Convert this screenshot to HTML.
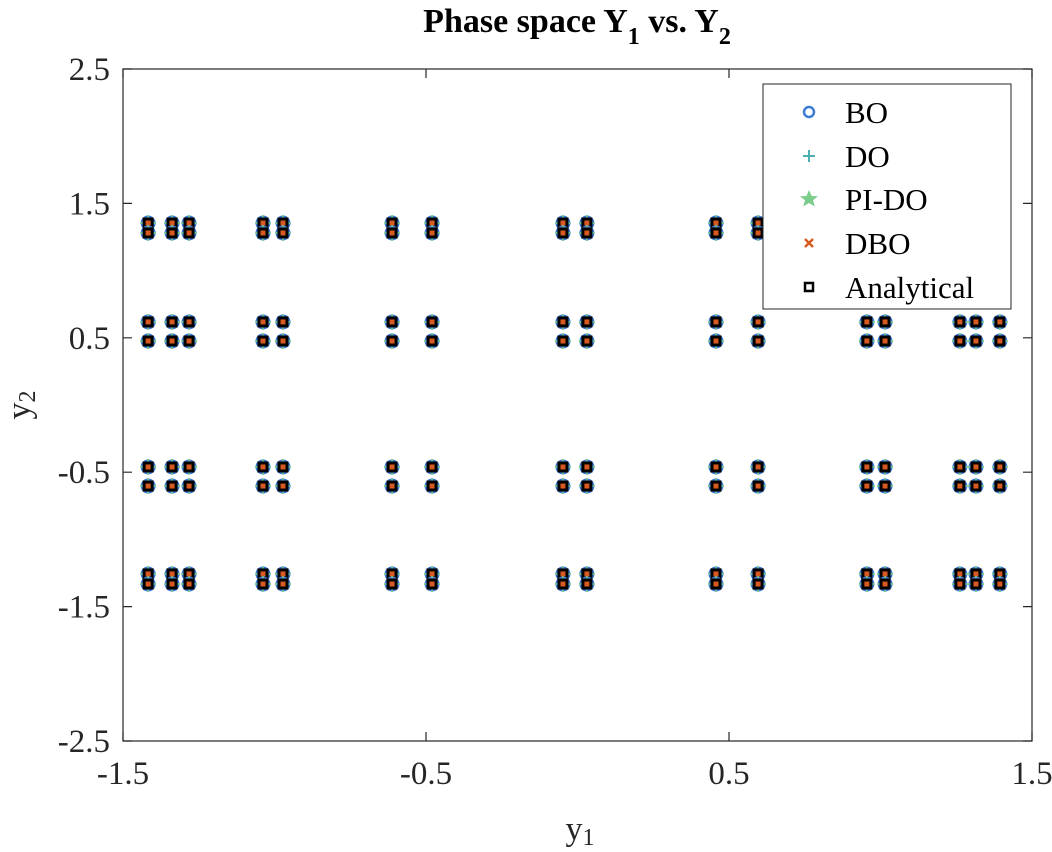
<!DOCTYPE html>
<html><head><meta charset="utf-8"><style>body{margin:0;background:#fff}svg{display:block;font-family:"Liberation Serif",serif}</style></head>
<body>
<svg id="chart" width="1052" height="852">
<text x="577" y="32" text-anchor="middle" font-size="34" font-weight="bold">Phase space Y<tspan font-size="24" dy="12">1</tspan><tspan dy="-12"> vs. Y</tspan><tspan font-size="24" dy="12">2</tspan></text>
<g id="plot"></g>
<rect x="123" y="69" width="909" height="672" fill="none" stroke="#262626" stroke-width="1.2"/>
<g id="ticks"></g>
<text x="580" y="840" text-anchor="middle" font-size="34" fill="#262626">y<tspan font-size="24" dy="5">1</tspan></text>
<text transform="translate(30,405) rotate(-90)" text-anchor="middle" font-size="34" fill="#262626">y<tspan font-size="24" dy="5">2</tspan></text>
<g>
<rect x="763" y="84" width="248" height="225" fill="#fff" stroke="#262626" stroke-width="1"/>
<circle cx="809" cy="112" r="5" fill="none" stroke="#3c7ad8" stroke-width="2.5"/>
<text x="845" y="123" font-size="31">BO</text>
<path d="M803 156h12M809 150v12" stroke="#4db0b0" stroke-width="2"/>
<text x="845" y="167" font-size="31">DO</text>
<polygon points="809,190 811.6,196 818,196.3 813,200.3 814.8,206.5 809,203 803.2,206.5 805,200.3 800,196.3 806.4,196" fill="#7ccc8c"/>
<text x="845" y="210" font-size="31">PI-DO</text>
<path d="M805 239l8 8M813 239l-8 8" stroke="#d95a20" stroke-width="2.5"/>
<text x="845" y="254" font-size="31">DBO</text>
<rect x="805" y="283" width="8" height="8" fill="none" stroke="#000" stroke-width="2.5"/>
<text x="845" y="298" font-size="31">Analytical</text>
</g>
</svg>
<script>
const xVals=[-1.417,-1.338,-1.282,-1.038,-0.972,-0.612,-0.480,-0.048,0.031,0.457,0.596,0.955,1.015,1.262,1.315,1.394];
const yVals=[1.354,1.280,0.618,0.476,-0.461,-0.603,-1.257,-1.332];
const xTicks=[-1.5,-0.5,0.5,1.5];
const yTicks=[-2.5,-1.5,-0.5,0.5,1.5,2.5];
const NS="http://www.w3.org/2000/svg";
const sx=v=>123+(v+1.5)*303, sy=v=>741-(v+2.5)*134.4;
function mk(t,a,p){const e=document.createElementNS(NS,t);for(const k in a)e.setAttribute(k,a[k]);p.appendChild(e);return e;}
const plot=document.getElementById('plot');
xVals.forEach(x=>yVals.forEach(y=>{
 const g=mk('g',{},plot);
 
 
 const cx=sx(x),cy=sy(y);
 mk('circle',{cx:cx,cy:cy,r:7.5,fill:'#3c7ad8'},g);
 mk('path',{d:`M${cx-8} ${cy}h16M${cx} ${cy-8}v16`,stroke:'#7ccc8c','stroke-width':1.5},g);
 mk('rect',{x:cx-5.5,y:cy-5.5,width:11,height:11,fill:'#000'},g);
 mk('rect',{x:cx-2.5,y:cy-2.5,width:5,height:5,fill:'#d95a20'},g);
}));
const tk=document.getElementById('ticks');
xTicks.forEach(v=>{const x=sx(v);
 mk('path',{d:`M${x} 741v-9M${x} 69v9`,stroke:'#262626','stroke-width':1.2},tk);
 const t=mk('text',{x:x,y:784,'text-anchor':'middle','font-size':33,fill:'#262626'},tk);t.textContent=v.toFixed(1);
 
 });
yTicks.forEach(v=>{const y=sy(v);
 mk('path',{d:`M123 ${y}h9M1032 ${y}h-9`,stroke:'#262626','stroke-width':1.2},tk);
 const t=mk('text',{x:110,y:y+11,'text-anchor':'end','font-size':33,fill:'#262626'},tk);t.textContent=v.toFixed(1);
 
 });
</script>
</body></html>
